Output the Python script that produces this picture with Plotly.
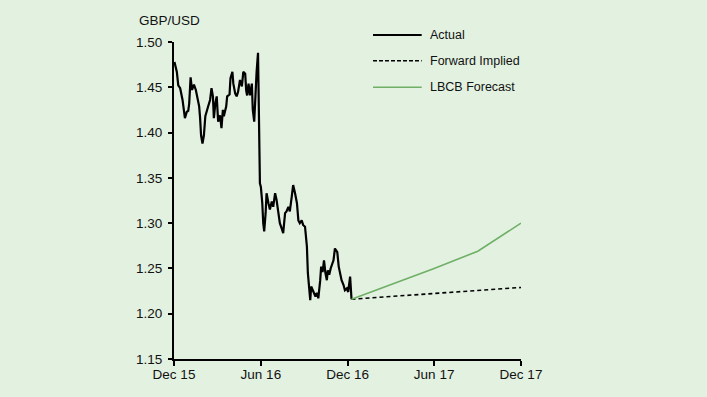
import pandas as pd
import plotly.graph_objects as go

# ---- data ----
start_date = "2015-12-01"
actual_days = [1, 2, 6, 9, 13, 18, 21, 23, 27, 30, 32, 35, 38, 42, 46, 50, 53, 55, 57, 60,
               63, 66, 69, 72, 76, 79, 82, 84, 87, 90, 93, 97, 100, 103, 105, 110, 112, 117, 119, 123,
               125, 129, 132, 135, 139, 143, 146, 150, 152, 154, 157, 160, 164, 166, 169, 171, 174, 177, 178, 180,
               181, 183, 186, 188, 190, 193, 195, 199, 202, 206, 209, 213, 216, 220, 223, 227, 230, 234, 237, 241,
               244, 248, 251, 255, 259, 262, 265, 269, 272, 276, 280, 282, 284, 287, 289, 292, 295, 298, 301, 304,
               308, 310, 313, 316, 319, 322, 324, 327, 330, 336, 339, 341, 344, 347, 350, 353, 357, 360, 364, 367,
               371, 373, 374]
actual_vals = [1.478, 1.476, 1.467, 1.452, 1.449, 1.436, 1.425, 1.416, 1.423, 1.424, 1.432, 1.461, 1.447, 1.453, 1.447, 1.436, 1.429, 1.416, 1.397, 1.388,
               1.397, 1.418, 1.425, 1.429, 1.436, 1.449, 1.440, 1.416, 1.432, 1.440, 1.412, 1.419, 1.405, 1.425, 1.418, 1.429, 1.440, 1.442, 1.460, 1.467,
               1.454, 1.443, 1.440, 1.445, 1.458, 1.451, 1.467, 1.465, 1.447, 1.441, 1.454, 1.441, 1.454, 1.425, 1.412, 1.436, 1.467, 1.488, 1.436, 1.368,
               1.344, 1.340, 1.322, 1.300, 1.291, 1.311, 1.333, 1.322, 1.315, 1.324, 1.318, 1.333, 1.326, 1.311, 1.300, 1.294, 1.289, 1.311, 1.313, 1.318,
               1.313, 1.329, 1.342, 1.333, 1.322, 1.303, 1.300, 1.303, 1.298, 1.296, 1.274, 1.245, 1.234, 1.215, 1.230, 1.226, 1.223, 1.219, 1.223, 1.217,
               1.237, 1.252, 1.246, 1.259, 1.245, 1.237, 1.248, 1.243, 1.250, 1.259, 1.272, 1.270, 1.268, 1.252, 1.245, 1.237, 1.232, 1.226, 1.228, 1.224,
               1.241, 1.228, 1.216]

forward_dates = ["2016-12-09", "2017-12-01"]
forward_vals = [1.216, 1.229]

lbcb_dates = ["2016-12-09", "2017-03-01", "2017-06-01", "2017-09-01", "2017-12-01"]
lbcb_vals = [1.216, 1.232, 1.250, 1.269, 1.300]

tick_dates = ["2015-12-01", "2016-06-01", "2016-12-01", "2017-06-01", "2017-12-01"]
tick_labels = ["Dec 15", "Jun 16", "Dec 16", "Jun 17", "Dec 17"]

y_ticks = [1.15, 1.20, 1.25, 1.30, 1.35, 1.40, 1.45, 1.50]

series_names = ["Actual", "Forward Implied", "LBCB Forecast"]
# ---- end data ----

actual_dates = pd.Timestamp(start_date) + pd.to_timedelta(actual_days, unit="D")

BG = "#E3F1E1"
GREEN = "#6FAF66"
FONT = "Liberation Sans, Arial, sans-serif"

fig = go.Figure()
fig.add_trace(go.Scatter(x=actual_dates, y=actual_vals, mode="lines", name=series_names[0],
                         line=dict(color="black", width=2.2)))
fig.add_trace(go.Scatter(x=pd.to_datetime(forward_dates), y=forward_vals, mode="lines", name=series_names[1],
                         line=dict(color="black", width=1.6, dash="4px,3px")))
fig.add_trace(go.Scatter(x=pd.to_datetime(lbcb_dates), y=lbcb_vals, mode="lines", name=series_names[2],
                         line=dict(color=GREEN, width=1.6)))

fig.update_layout(
    width=707, height=397,
    margin=dict(l=174, r=186, t=42, b=38),
    paper_bgcolor=BG, plot_bgcolor=BG,
    showlegend=False,
    font=dict(family=FONT, size=13.5, color="#111111"),
)
fig.update_xaxes(
    range=[pd.Timestamp(tick_dates[0]), pd.Timestamp(tick_dates[-1])],
    tickvals=pd.to_datetime(tick_dates), ticktext=tick_labels,
    showgrid=False, zeroline=False,
    showline=True, linecolor="black", linewidth=2,
    ticks="outside", ticklen=5, tickwidth=1.5, tickcolor="black",
    ticklabelstandoff=-3,
)
fig.update_yaxes(
    range=[1.15, 1.50],
    tickvals=y_ticks, ticktext=[f"{v:.2f}" for v in y_ticks],
    showgrid=False, zeroline=False,
    showline=True, linecolor="black", linewidth=2,
    ticks="outside", ticklen=4, tickwidth=1.5, tickcolor="black",
    ticklabelstandoff=3,
)

# axis title
fig.add_annotation(xref="paper", yref="paper", x=-0.108, y=1.069, xanchor="left", yanchor="middle",
                   text="GBP/USD", showarrow=False, font=dict(size=13.5))

# manual legend
leg_rows = [1.022, 0.941, 0.857]
leg_styles = [dict(color="black", width=2), dict(color="black", width=1.5, dash="4px,2px"),
              dict(color=GREEN, width=1.5)]
for name, yy, st in zip(series_names, leg_rows, leg_styles):
    fig.add_shape(type="line", xref="paper", yref="paper", x0=0.5735, x1=0.7138, y0=yy, y1=yy, line=st)
    fig.add_annotation(xref="paper", yref="paper", x=0.733, y=yy, xanchor="left", yanchor="middle",
                       text=name, showarrow=False, font=dict(size=12.5))

fig.write_html("out.html", config={"displayModeBar": False},
               post_script="document.body.style.margin='0';document.body.style.background='%s';" % BG)
